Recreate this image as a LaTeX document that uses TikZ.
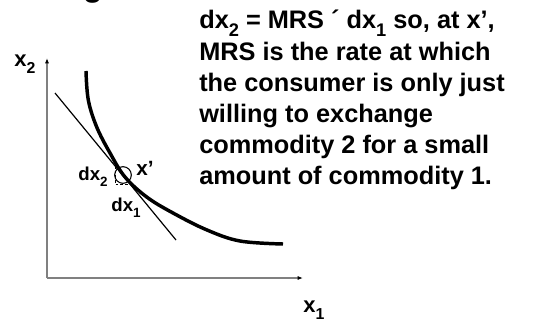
\documentclass[tikz,border=0pt]{standalone}
\usepackage{fontspec}
\setmainfont{Liberation Sans}
\usepackage{graphicx}
\usetikzlibrary{arrows.meta}
\newcommand\lowsub[1]{\raisebox{-0.32em}{\scalebox{0.72}{#1}}}
\tikzset{
  axisline/.style={draw=black!50, line width=0.8pt, -{Latex[length=4pt,width=3pt,black]}},
  curveline/.style={line width=2.6pt},
  tangentline/.style={line width=0.9pt},
  lbl/.style={font=\fontsize{14}{15}\selectfont\bfseries, inner sep=0pt},
  axlbl/.style={font=\fontsize{16.5}{18}\selectfont\bfseries, inner sep=0pt},
  bigtext/.style={font=\fontsize{19}{23.4}\selectfont\bfseries, inner sep=0pt, align=left, anchor=north west}
}
\begin{document}
\begin{tikzpicture}[x=0.75pt,y=-0.75pt]
\useasboundingbox (0,0) rectangle (534,324);
% cut-off title fragment
\begin{scope}
\clip (0,0) rectangle (534,324);
\node[font=\fontsize{24}{28}\selectfont\bfseries, inner sep=0pt, anchor=base] (ttl) at (93,-3) {g};
\end{scope}
% axes
\coordinate (O) at (47,278);
\coordinate (Ytop) at (47,58);
\coordinate (Xend) at (303,278);
\draw[axisline] (O) -- (Ytop);
\draw[axisline] (O) -- (Xend);
\node[axlbl] (x2) at (25,64) {x\lowsub{2}};
\node[axlbl] (x1) at (314,310) {x\lowsub{1}};
% indifference curve
\draw[curveline] plot[smooth, tension=0.6] coordinates {(86,71) (88.3,100) (96.7,127) (110,153) (125,177) (146.7,197) (173,213) (207,230) (240,241) (283,244)};
% tangent line
\coordinate (T1) at (55,93);
\coordinate (T2) at (176,240);
\draw[tangentline] (T1) -- (T2);
% point x'
\node[draw, circle, minimum size=12.5pt, inner sep=0pt, line width=0.8pt] (xp) at (123,175) {};
% dashed triangle
\coordinate (A) at (115,166);
\coordinate (B) at (115,184);
\coordinate (C) at (131,184);
\draw[line width=0.6pt, dash pattern=on 2pt off 1.5pt] (A) -- (B) -- (C);
\node[lbl] (dx2) at (93,177) {dx\lowsub{2}};
\node[lbl, font=\fontsize{15.5}{17}\selectfont\bfseries] (xprime) at (145,168) {x’};
\node[lbl] (dx1) at (126,208) {dx\lowsub{1}};
% text
\node[bigtext] (txt) at (199,10) {dx\lowsub{2} = MRS ´ dx\lowsub{1} so, at x’,\\MRS is the rate at which\\the consumer is only just\\willing to exchange\\commodity 2 for a small\\amount of commodity 1.};
\end{tikzpicture}
\end{document}
